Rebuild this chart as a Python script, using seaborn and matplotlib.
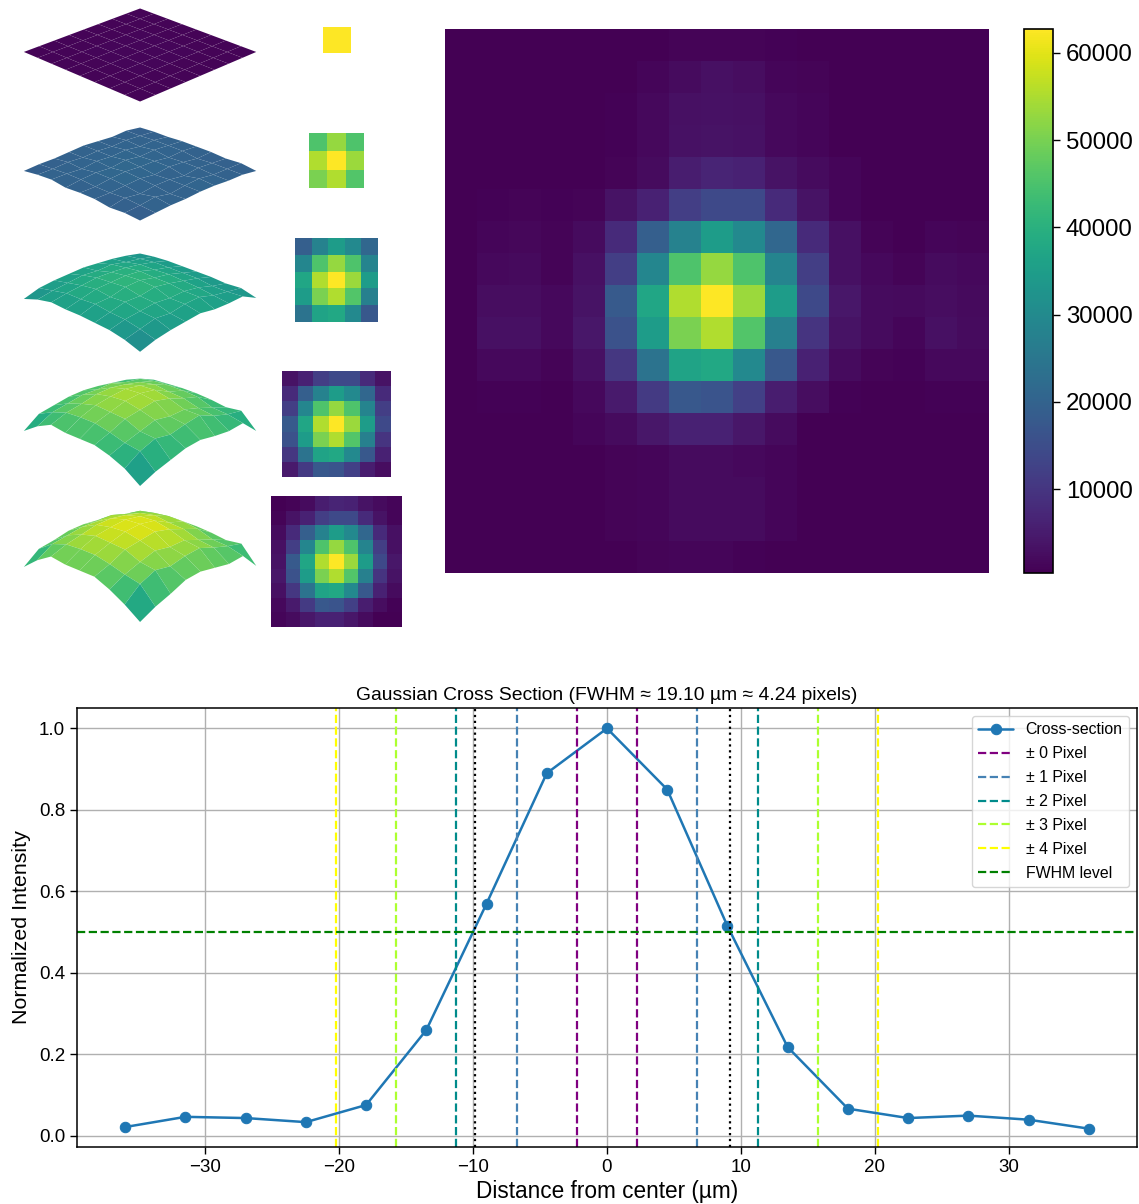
import numpy as np
import seaborn as sns
from matplotlib import pyplot as plt

# intensity image as a fraction of the colour range, 17 x 17 pixels
image_rows = [
    [.000, .000, .000, .000, .000, .000, .003, .008, .010, .008, .004, .000, .000, .000, .000, .000, .000],
    [.000, .000, .000, .000, .000, .000, .015, .030, .040, .035, .015, .010, .000, .000, .000, .000, .000],
    [.000, .000, .000, .000, .000, .005, .020, .040, .045, .040, .020, .015, .000, .000, .000, .000, .000],
    [.000, .000, .000, .000, .000, .005, .020, .045, .050, .045, .020, .012, .000, .000, .000, .000, .000],
    [.000, .000, .000, .003, .003, .010, .030, .080, .100, .090, .050, .030, .015, .000, .000, .000, .000],
    [.000, .005, .008, .005, .010, .050, .090, .180, .220, .220, .120, .050, .015, .003, .000, .000, .000],
    [.000, .012, .018, .010, .030, .120, .300, .440, .550, .470, .330, .120, .040, .010, .000, .015, .010],
    [.000, .020, .025, .010, .040, .180, .460, .720, .840, .720, .450, .180, .040, .020, .010, .030, .020],
    [.000, .032, .033, .020, .050, .280, .590, .880, 1.00, .850, .550, .220, .060, .030, .025, .035, .025],
    [.000, .040, .040, .020, .060, .250, .550, .800, .880, .730, .430, .150, .050, .030, .015, .040, .030],
    [.000, .020, .020, .010, .040, .160, .380, .580, .600, .470, .270, .090, .030, .010, .005, .020, .020],
    [.000, .005, .005, .003, .020, .070, .170, .270, .260, .190, .080, .035, .005, .003, .003, .005, .005],
    [.000, .000, .000, .003, .015, .030, .060, .090, .090, .060, .030, .003, .000, .000, .000, .000, .000],
    [.000, .000, .000, .000, .003, .010, .015, .030, .030, .020, .015, .003, .000, .000, .000, .000, .000],
    [.000, .000, .000, .000, .000, .010, .015, .030, .030, .030, .015, .003, .000, .000, .000, .000, .000],
    [.000, .000, .000, .000, .000, .010, .015, .030, .030, .030, .015, .000, .000, .000, .000, .000, .000],
    [.000, .000, .000, .000, .000, .000, .010, .015, .015, .005, .000, .000, .000, .000, .000, .000, .000],
]
image_min = 370
image_max = 62750
crop_half_widths = [0, 1, 2, 3, 4]

# surface heights, one 9 x 9 grid per crop size
surface_0 = [
    [.010, .010, .010, .010, .010, .010, .010, .010, .010],
    [.010, .010, .010, .011, .011, .011, .010, .010, .010],
    [.010, .010, .011, .012, .012, .012, .011, .010, .010],
    [.010, .011, .012, .013, .014, .013, .012, .011, .010],
    [.010, .011, .012, .014, .015, .014, .012, .011, .010],
    [.010, .011, .012, .013, .014, .013, .012, .011, .010],
    [.010, .010, .011, .012, .012, .012, .011, .010, .010],
    [.010, .010, .010, .011, .011, .011, .010, .010, .010],
    [.010, .010, .010, .010, .010, .010, .010, .010, .010],
]
surface_1 = [
    [.29, .31, .32, .30, .31, .31, .29, .30, .29],
    [.30, .31, .32, .32, .31, .31, .32, .31, .30],
    [.30, .32, .31, .33, .33, .32, .30, .33, .31],
    [.31, .31, .33, .32, .34, .33, .32, .30, .31],
    [.32, .32, .32, .34, .33, .31, .32, .32, .32],
    [.31, .31, .33, .32, .33, .33, .30, .33, .32],
    [.30, .32, .31, .33, .31, .32, .32, .31, .31],
    [.31, .31, .32, .32, .32, .30, .31, .31, .31],
    [.29, .30, .30, .31, .31, .31, .30, .31, .29],
]
surface_2 = [
    [.48, .53, .56, .55, .55, .54, .53, .50, .45],
    [.53, .56, .59, .59, .60, .58, .57, .54, .50],
    [.55, .58, .61, .63, .61, .62, .59, .58, .53],
    [.56, .60, .63, .64, .65, .62, .61, .57, .55],
    [.57, .59, .63, .65, .66, .65, .60, .60, .57],
    [.56, .60, .62, .64, .63, .63, .61, .61, .55],
    [.55, .57, .60, .60, .61, .60, .59, .57, .55],
    [.53, .55, .57, .57, .57, .57, .55, .55, .56],
    [.50, .52, .53, .53, .53, .53, .52, .53, .49],
]
surface_3 = [
    [.52, .62, .69, .67, .67, .67, .63, .57, .47],
    [.63, .70, .75, .76, .76, .73, .69, .67, .54],
    [.66, .73, .78, .82, .81, .80, .74, .73, .59],
    [.69, .76, .82, .85, .86, .83, .79, .71, .64],
    [.70, .76, .83, .87, .88, .86, .77, .75, .66],
    [.69, .77, .81, .85, .86, .83, .78, .78, .64],
    [.67, .73, .78, .81, .79, .78, .74, .72, .63],
    [.65, .71, .74, .75, .75, .74, .69, .68, .65],
    [.61, .65, .66, .67, .67, .66, .64, .66, .52],
]
surface_4 = [
    [.55, .67, .76, .74, .74, .74, .68, .60, .50],
    [.67, .77, .82, .83, .83, .80, .76, .73, .58],
    [.70, .80, .86, .90, .89, .88, .82, .80, .64],
    [.74, .83, .90, .93, .94, .91, .87, .78, .71],
    [.75, .83, .91, .95, .96, .94, .85, .82, .73],
    [.74, .84, .89, .93, .94, .91, .86, .84, .71],
    [.72, .80, .86, .89, .87, .86, .81, .79, .69],
    [.70, .78, .81, .83, .83, .81, .76, .75, .71],
    [.66, .70, .72, .73, .73, .72, .70, .72, .56],
]
surfaces = [surface_0, surface_1, surface_2, surface_3, surface_4]

# cross section
distance = [-36, -31.5, -27, -22.5, -18, -13.5, -9, -4.5, 0, 4.5, 9, 13.5, 18, 22.5, 27, 31.5, 36]
profile = [.022, .047, .044, .034, .076, .260, .570, .890, 1.0, .850, .515, .218, .067, .044, .050, .040, .018]
pixel_edges = [2.25, 6.75, 11.25, 15.75, 20.25]
pixel_colors = ['purple', 'steelblue', 'darkcyan', 'greenyellow', 'yellow']
fwhm_left = -9.9
fwhm_right = 9.2

W, H = 1139, 1204
# layout in pixels: left, top, right, bottom
crop_boxes = [(323, 27, 351, 53), (309, 133, 364, 188), (295, 238, 378, 322),
              (282, 371, 391, 477), (271, 496, 402, 627)]
surface_centers = [56, 175, 303, 435, 571]


def box(fig, left, top, right, bottom, **kw):
    return fig.add_axes([left / W, 1 - bottom / H, (right - left) / W, (bottom - top) / H], **kw)


def draw_surfaces(fig):
    x, y = np.meshgrid(np.arange(9), np.arange(9))
    for grid, cy in zip(surfaces, surface_centers):
        z = np.array(grid)
        ax = box(fig, 136 - 150, cy - 150, 136 + 150, cy + 150, projection='3d')
        ax.plot_surface(x, y, z, cmap='viridis', vmin=0, vmax=1, rstride=1, cstride=1,
                        linewidth=0, antialiased=True)
        mid = z[0, 0]
        ax.set_zlim(mid - .5, mid + .5)
        ax.view_init(elev=23.5, azim=-45)
        ax.set_box_aspect((1, 1, .6), zoom=.936)
        ax.set_axis_off()
        ax.patch.set_alpha(0)


def draw_images(fig):
    image = image_min + np.array(image_rows) * (image_max - image_min)
    for k, b in zip(crop_half_widths, crop_boxes):
        ax = box(fig, *b)
        crop = image[8 - k:8 + k + 1, 8 - k:8 + k + 1]
        sns.heatmap(crop, cmap='viridis', vmin=image_min, vmax=image_max, cbar=False,
                    xticklabels=False, yticklabels=False, ax=ax)

    ax = box(fig, 445, 29, 989, 573)
    cax = box(fig, 1024, 29, 1053, 573)
    sns.heatmap(image, cmap='viridis', vmin=image_min, vmax=image_max, cbar_ax=cax,
                xticklabels=False, yticklabels=False, ax=ax)
    cbar = ax.collections[0].colorbar
    cbar.outline.set_visible(True)
    cbar.outline.set_linewidth(1.2)
    cbar.outline.set_edgecolor('black')
    cbar.set_ticks([10000, 20000, 30000, 40000, 50000, 60000])
    cax.tick_params(labelsize=17.3, length=5, width=1, pad=4.2)


def draw_profile(fig):
    ax = box(fig, 77, 708, 1137, 1147)
    ax.grid(True, color='#b0b0b0', lw=1)
    ax.set_axisbelow(True)
    sns.lineplot(x=distance, y=profile, marker='o', color='#1f77b4', markersize=7.5, lw=1.8,
                 markeredgecolor='#1f77b4', label='Cross-section', errorbar=None, ax=ax)
    for i, (edge, color) in enumerate(zip(pixel_edges, pixel_colors)):
        ax.axvline(-edge, color=color, ls='--', lw=1.6, label=f'± {i} Pixel')
        ax.axvline(edge, color=color, ls='--', lw=1.6)
    ax.axhline(.5, color='green', ls='--', lw=1.6, label='FWHM level')
    ax.axvline(fwhm_left, color='black', ls=':', lw=1.6)
    ax.axvline(fwhm_right, color='black', ls=':', lw=1.6)
    ax.set_xlim(-39.6, 39.6)
    ax.set_ylim(-.027, 1.05)
    ax.set_xticks([-30, -20, -10, 0, 10, 20, 30])
    ax.tick_params(labelsize=13.5, length=5, width=1)
    ax.set_title('Gaussian Cross Section (FWHM ≈ 19.10 µm ≈ 4.24 pixels)', fontsize=13.9, pad=6)
    ax.set_xlabel('Distance from center (µm)', fontsize=16.3, labelpad=3)
    ax.set_ylabel('Normalized Intensity', fontsize=15.4, labelpad=6)
    for s in ax.spines.values():
        s.set_linewidth(1.1)
    ax.legend(loc='upper right', fontsize=11.4, labelspacing=.565, handlelength=2.2, borderpad=.4)


if __name__ == '__main__':
    sns.set_style('ticks', {'text.color': 'black', 'axes.labelcolor': 'black', 'axes.edgecolor': 'black',
                            'xtick.color': 'black', 'ytick.color': 'black'})
    plt.rcParams['font.family'] = ['Liberation Sans', 'DejaVu Sans']
    fig = plt.figure(figsize=(W / 100, H / 100), dpi=100)
    draw_surfaces(fig)
    draw_images(fig)
    draw_profile(fig)
    fig.savefig('out.png', dpi=100)
